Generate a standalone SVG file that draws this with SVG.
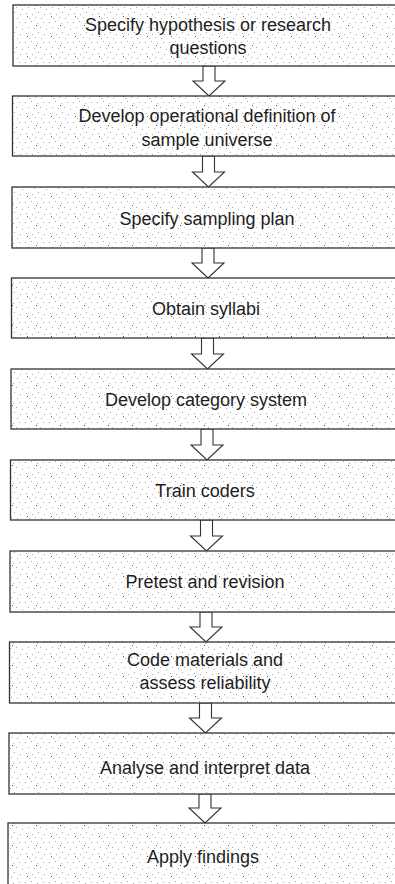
<svg xmlns="http://www.w3.org/2000/svg" width="395" height="884" viewBox="0 0 395 884">
<defs>
<pattern id="stip" patternUnits="userSpaceOnUse" width="24" height="20">
<rect width="24" height="20" fill="#ffffff"/>
<g fill="#a8a8a8">
<rect x="1" y="2" width="1" height="1"/><rect x="7" y="1" width="1" height="1"/><rect x="13" y="3" width="1" height="1"/>
<rect x="19" y="2" width="1" height="1"/><rect x="4" y="7" width="1" height="1"/><rect x="10" y="8" width="1" height="1"/>
<rect x="16" y="7" width="1" height="1"/><rect x="22" y="9" width="1" height="1"/><rect x="2" y="13" width="1" height="1"/>
<rect x="8" y="14" width="1" height="1"/><rect x="14" y="12" width="1" height="1"/><rect x="20" y="14" width="1" height="1"/>
<rect x="5" y="18" width="1" height="1"/><rect x="11" y="17" width="1" height="1"/><rect x="17" y="18" width="1" height="1"/>
</g>
<g fill="#555"><rect x="12" y="5" width="1" height="1"/><rect x="3" y="16" width="1" height="1"/></g>
</pattern>
</defs>
<style>
.box{fill:url(#stip);stroke:#333;stroke-width:1.3}
.arr{fill:#fff;stroke:#333;stroke-width:1.1;stroke-linejoin:miter}
text{font-family:"Liberation Sans",Arial,sans-serif;font-size:18px;fill:#1e1e1e;text-anchor:middle}
</style>
<rect width="395" height="884" fill="#fff"/>
<g id="connectors">
<polygon class="arr" points="203,66 203,81 193,81 209,96 225,81 215,81 215,66"/>
<polygon class="arr" points="202.5,156 202.5,172 192.5,172 208.5,187 224.5,172 214.5,172 214.5,156"/>
<polygon class="arr" points="202,248 202,263 192,263 208,278 224,263 214,263 214,248"/>
<polygon class="arr" points="201.5,338 201.5,354 191.5,354 207.5,369 223.5,354 213.5,354 213.5,338"/>
<polygon class="arr" points="201,429 201,445 191,445 207,460 223,445 213,445 213,429"/>
<polygon class="arr" points="200.5,520 200.5,536 190.5,536 206.5,551 222.5,536 212.5,536 212.5,520"/>
<polygon class="arr" points="200,612 200,627 190,627 206,642 222,627 212,627 212,612"/>
<polygon class="arr" points="199.5,703 199.5,718 189.5,718 205.5,733 221.5,718 211.5,718 211.5,703"/>
<polygon class="arr" points="199,794 199,808 189,808 205,823 221,808 211,808 211,794"/>
</g>
<g id="n1"><rect class="box" x="13" y="5" width="390" height="61"/>
<text x="208" y="31">Specify hypothesis or research</text><text x="208" y="54">questions</text></g>
<g id="n2"><rect class="box" x="12.5" y="96" width="390" height="60"/>
<text x="207" y="122">Develop operational definition of</text><text x="207" y="146">sample universe</text></g>
<g id="n3"><rect class="box" x="12" y="187" width="390" height="61"/>
<text x="207" y="225">Specify sampling plan</text></g>
<g id="n4"><rect class="box" x="11.5" y="278" width="390" height="60"/>
<text x="206" y="315">Obtain syllabi</text></g>
<g id="n5"><rect class="box" x="11" y="369" width="390" height="60"/>
<text x="206" y="406">Develop category system</text></g>
<g id="n6"><rect class="box" x="10.5" y="460" width="390" height="60"/>
<text x="205" y="497">Train coders</text></g>
<g id="n7"><rect class="box" x="10" y="551" width="390" height="61"/>
<text x="205" y="588">Pretest and revision</text></g>
<g id="n8"><rect class="box" x="9.5" y="642" width="390" height="61"/>
<text x="205" y="666">Code materials and</text><text x="205" y="689">assess reliability</text></g>
<g id="n9"><rect class="box" x="9" y="733" width="390" height="61"/>
<text x="205" y="774">Analyse and interpret data</text></g>
<g id="n10"><rect class="box" x="8" y="823" width="390" height="70"/>
<text x="203" y="863">Apply findings</text></g>
</svg>
